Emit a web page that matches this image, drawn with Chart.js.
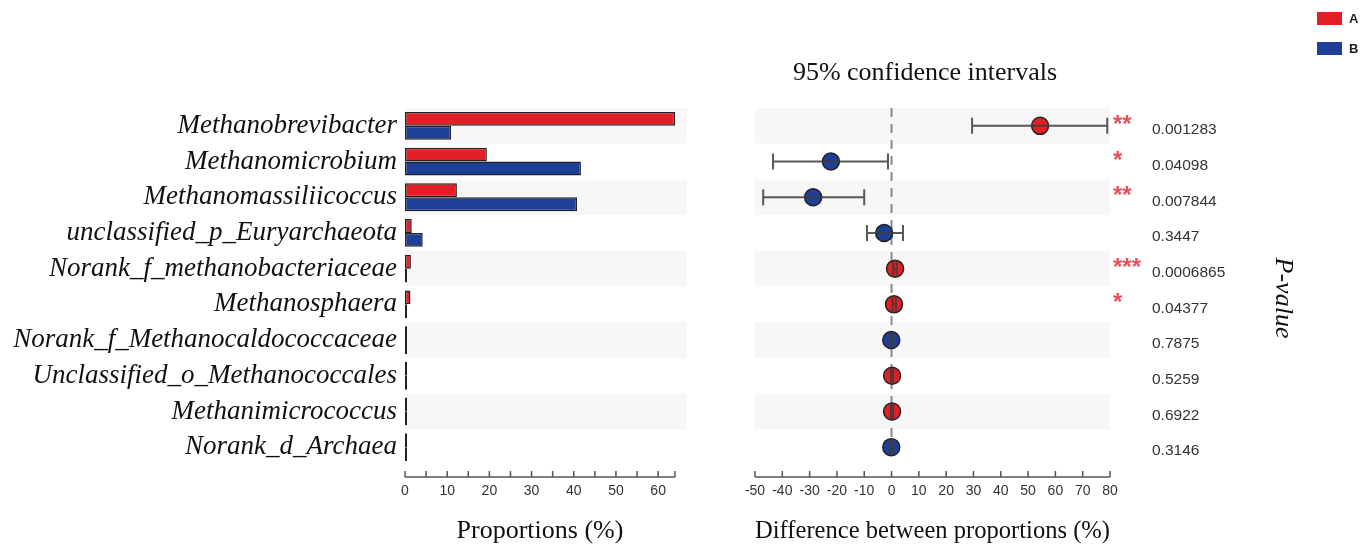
<!DOCTYPE html>
<html>
<head>
<meta charset="utf-8">
<script src="https://cdn.jsdelivr.net/npm/chart.js@4.4.1/dist/chart.umd.min.js"></script>
<style>
    html, body { margin: 0; padding: 0; background: #fff; }
    #wrap { position: relative; width: 1362px; height: 547px; }
    #wrap canvas { position: absolute; left: 0; top: 0; }
</style>
</head>
<body>
<div id="wrap">
    <canvas id="left" width="1362" height="547"></canvas>
    <canvas id="right" width="1362" height="547"></canvas>
</div>
<script>
const taxa = [
    "Methanobrevibacter",
    "Methanomicrobium",
    "Methanomassiliicoccus",
    "unclassified_p_Euryarchaeota",
    "Norank_f_methanobacteriaceae",
    "Methanosphaera",
    "Norank_f_Methanocaldococcaceae",
    "Unclassified_o_Methanococcales",
    "Methanimicrococcus",
    "Norank_d_Archaea"
];
const propA = [64.0, 19.4, 12.3, 1.6, 1.4, 1.3, 0.2, 0.2, 0.2, 0.1];
const propB = [10.9, 41.7, 40.8, 4.2, 0.3, 0.2, 0.2, 0.1, 0.1, 0.2];
const diff = [54.4, -22.2, -28.7, -2.7, 1.3, 0.9, -0.1, 0.2, 0.2, -0.1];
const ciLow = [29.5, -43.4, -47.0, -9.0, 0.6, 0.3, -0.4, -0.2, -0.2, -0.5];
const ciHigh = [79.0, -1.3, -10.0, 4.2, 1.9, 1.6, 0.3, 0.6, 0.6, 0.3];
const pValues = ["0.001283", "0.04098", "0.007844", "0.3447", "0.0006865", "0.04377", "0.7875", "0.5259", "0.6922", "0.3146"];
const stars = ["**", "*", "**", "", "***", "*", "", "", "", ""];
const propTicks = [0, 10, 20, 30, 40, 50, 60];
const propMax = 64;

const RED = "#e41e26";
const BLUE = "#1e3f96";
const SERIF = '"Liberation Serif", "Times New Roman", serif';
const SANS = '"Liberation Sans", Arial, sans-serif';

// light grey band behind every other row
const rowBands = {
    id: "rowBands",
    beforeDatasetsDraw(chart, args, opts) {
        const y = chart.scales.y, area = chart.chartArea, ctx = chart.ctx;
        const half = Math.abs(y.getPixelForValue(1) - y.getPixelForValue(0)) / 2;
        ctx.save();
        ctx.fillStyle = "#f7f7f7";
        for (let i = 0; i < taxa.length; i += 2) {
            const py = y.getPixelForValue(i);
            ctx.fillRect(area.left, py - half, area.right - area.left + (opts.extra || 0), half * 2);
        }
        ctx.restore();
    }
};

// axis line with ticks pointing up, a little below the plot
const bottomAxis = {
    id: "bottomAxis",
    afterDraw(chart) {
        const x = chart.scales.x, ctx = chart.ctx;
        const y0 = chart.chartArea.bottom + 12;
        ctx.save();
        ctx.strokeStyle = "#555";
        ctx.lineWidth = 1.5;
        ctx.beginPath();
        ctx.moveTo(x.getPixelForValue(x.min), y0);
        ctx.lineTo(x.getPixelForValue(x.max), y0);
        x.ticks.forEach(t => {
            const px = x.getPixelForValue(t.value);
            ctx.moveTo(px, y0);
            ctx.lineTo(px, y0 - 6);
        });
        ctx.stroke();
        ctx.restore();
    }
};

const groupLegend = {
    id: "groupLegend",
    afterDraw(chart) {
        const ctx = chart.ctx;
        ctx.save();
        ctx.font = "bold 13px " + SANS;
        ctx.textBaseline = "middle";
        chart.data.datasets.forEach((ds, i) => {
            const top = 12 + i * 30;
            ctx.fillStyle = ds.backgroundColor;
            ctx.fillRect(1317, top, 25, 13);
            ctx.fillStyle = "#222";
            ctx.fillText(ds.label, 1349, top + 7);
        });
        ctx.restore();
    }
};

new Chart(document.getElementById("left"), {
    type: "bar",
    data: {
        labels: taxa,
        datasets: [
            { label: "A", data: propA, backgroundColor: RED },
            { label: "B", data: propB, backgroundColor: BLUE }
        ]
    },
    options: {
        indexAxis: "y",
        responsive: false,
        animation: false,
        layout: { padding: { left: 0, right: 687, top: 108, bottom: 0 } },
        datasets: {
            bar: {
                borderColor: "#222",
                borderWidth: 1.5,
                borderSkipped: false,
                categoryPercentage: 0.78,
                barPercentage: 1.0,
                minBarLength: 2
            }
        },
        scales: {
            x: {
                type: "linear",
                min: 0,
                max: propMax,
                grid: { display: false, drawTicks: false },
                border: { display: false },
                afterFit: s => { s.height = 82; },
                // minor ticks every 5, plus one at the end of the axis
                afterBuildTicks: s => {
                    const t = [];
                    for (let v = 0; v < propMax; v += 5) t.push({ value: v });
                    t.push({ value: propMax });
                    s.ticks = t;
                },
                ticks: {
                    autoSkip: false,
                    maxRotation: 0,
                    padding: 18,
                    color: "#333",
                    font: { family: SANS, size: 14 },
                    callback: v => propTicks.includes(v) ? v : ""
                },
                title: {
                    display: true,
                    text: "Proportions (%)",
                    color: "#111",
                    font: { family: SERIF, size: 26 },
                    padding: { top: 0, bottom: 0 }
                }
            },
            y: {
                grid: { display: false, drawTicks: false },
                border: { display: false },
                afterFit: s => { s.width = 405; },
                ticks: {
                    padding: 8,
                    color: "#111",
                    font: { family: SERIF, size: 27, style: "italic" }
                }
            }
        },
        plugins: {
            legend: { display: false },
            tooltip: { enabled: false },
            rowBands: { extra: 12 }
        }
    },
    plugins: [rowBands, bottomAxis, groupLegend]
});

const zeroLine = {
    id: "zeroLine",
    beforeDatasetsDraw(chart) {
        const x = chart.scales.x, area = chart.chartArea, ctx = chart.ctx;
        const px = x.getPixelForValue(0);
        ctx.save();
        ctx.strokeStyle = "#8a8a8a";
        ctx.lineWidth = 2;
        ctx.setLineDash([9, 7]);
        ctx.beginPath();
        ctx.moveTo(px, area.top);
        ctx.lineTo(px, area.bottom - 6);
        ctx.stroke();
        ctx.restore();
    }
};

const errorBars = {
    id: "errorBars",
    afterDatasetsDraw(chart) {
        const x = chart.scales.x, y = chart.scales.y, ctx = chart.ctx;
        ctx.save();
        ctx.strokeStyle = "rgba(60,60,60,0.85)";
        ctx.lineWidth = 2;
        ciLow.forEach((lo, i) => {
            const x1 = x.getPixelForValue(lo), x2 = x.getPixelForValue(ciHigh[i]);
            const py = y.getPixelForValue(i);
            ctx.beginPath();
            ctx.moveTo(x1, py); ctx.lineTo(x2, py);
            ctx.moveTo(x1, py - 8); ctx.lineTo(x1, py + 8);
            ctx.moveTo(x2, py - 8); ctx.lineTo(x2, py + 8);
            ctx.stroke();
        });
        ctx.restore();
    }
};

const sideText = {
    id: "sideText",
    afterDraw(chart) {
        const y = chart.scales.y, area = chart.chartArea, ctx = chart.ctx;
        ctx.save();
        ctx.fillStyle = "#111";
        ctx.font = "26px " + SERIF;
        ctx.textAlign = "center";
        ctx.textBaseline = "middle";
        ctx.fillText("95% confidence intervals", 925, 73);

        ctx.textAlign = "left";
        pValues.forEach((p, i) => {
            const py = y.getPixelForValue(i);
            ctx.fillStyle = "#e8505b";
            ctx.font = "bold 24px " + SANS;
            ctx.textBaseline = "alphabetic";
            ctx.fillText(stars[i], area.right + 3, py + 6);
            ctx.fillStyle = "#333";
            ctx.font = "15.5px " + SANS;
            ctx.textBaseline = "middle";
            ctx.fillText(p, area.right + 42, py + 4);
        });

        ctx.translate(1283, 298);
        ctx.rotate(Math.PI / 2);
        ctx.textAlign = "center";
        ctx.fillStyle = "#111";
        ctx.font = "italic 26px " + SERIF;
        ctx.fillText("P-value", 0, 0);
        ctx.restore();
    }
};

new Chart(document.getElementById("right"), {
    type: "scatter",
    data: {
        datasets: [{
            label: "difference",
            data: diff.map((d, i) => ({ x: d, y: i })),
            pointRadius: 8.5,
            pointBorderWidth: 1.5,
            pointBorderColor: "#222",
            pointBackgroundColor: diff.map(d => d > 0 ? RED : BLUE)
        }]
    },
    options: {
        responsive: false,
        animation: false,
        layout: { padding: { left: 755, right: 252, top: 108, bottom: 0 } },
        scales: {
            x: {
                type: "linear",
                min: -50,
                max: 80,
                grid: { display: false, drawTicks: false },
                border: { display: false },
                afterFit: s => { s.height = 82; },
                ticks: {
                    stepSize: 10,
                    autoSkip: false,
                    maxRotation: 0,
                    padding: 18,
                    color: "#333",
                    font: { family: SANS, size: 14 }
                },
                title: {
                    display: true,
                    text: "Difference between proportions (%)",
                    color: "#111",
                    font: { family: SERIF, size: 26 },
                    padding: { top: 0, bottom: 0 }
                }
            },
            y: {
                type: "linear",
                display: false,
                reverse: true,
                min: -0.5,
                max: 9.5
            }
        },
        plugins: {
            legend: { display: false },
            tooltip: { enabled: false },
            rowBands: { extra: 0 }
        }
    },
    plugins: [rowBands, zeroLine, errorBars, bottomAxis, sideText]
});
</script>
</body>
</html>
